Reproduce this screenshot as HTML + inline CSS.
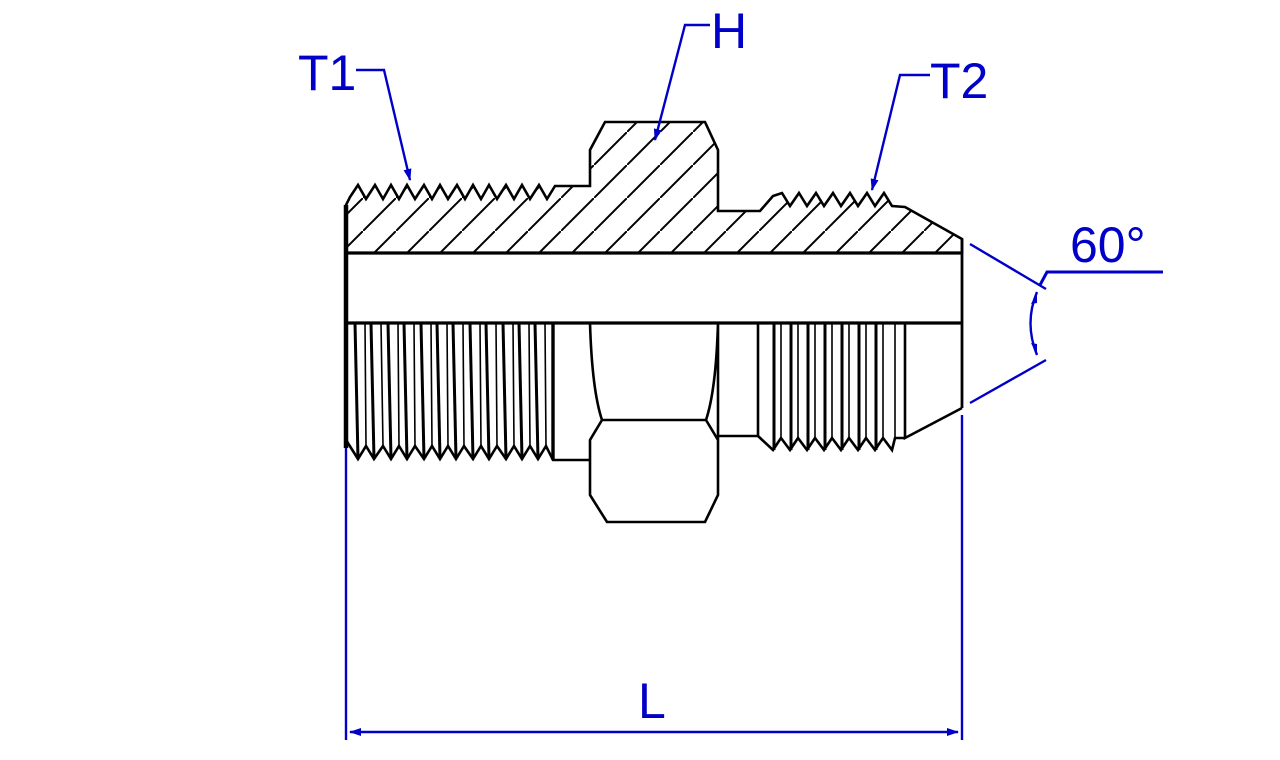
<!DOCTYPE html>
<html><head><meta charset="utf-8"><style>html,body{margin:0;padding:0;background:#fff}svg{display:block}</style></head>
<body>
<svg width="1280" height="760" viewBox="0 0 1280 760" xmlns="http://www.w3.org/2000/svg">
<defs>
<pattern id="hp" patternUnits="userSpaceOnUse" x="0" y="0" width="33" height="33">
<line x1="-2" y1="35" x2="35" y2="-2" stroke="#000" stroke-width="2"/>
</pattern>
<marker id="ar" markerWidth="12" markerHeight="8" refX="11" refY="4" orient="auto" markerUnits="userSpaceOnUse"><path d="M0,0 L12,4 L0,8 z" fill="#0000c8"/></marker>
<marker id="ar2" markerWidth="12" markerHeight="8" refX="1" refY="4" orient="auto" markerUnits="userSpaceOnUse"><path d="M12,0 L0,4 L12,8 z" fill="#0000c8"/></marker>
</defs>
<polygon fill="url(#hp)" stroke="none" points="346,253 346,205 350,197 358,185 366,199 375,185 383,199 391,185 399,199 407,185 415,199 424,185 432,199 440,185 448,199 457,185 465,199 473,185 481,199 489,185 497,199 506,185 514,199 522,185 530,199 539,185 547,199 555,186 590,186 590,150 605,122 705,122 718,150 718,211 760,211 773,196 782,193 790,206 799,193 807,206 816,193 824,206 833,193 841,206 850,193 858,206 867,193 875,206 884,193 892,206 905,207 962,239 962,253"/>
<g fill="none" stroke="#000" stroke-width="2.6">
<polyline points="346,253 346,205 350,197 358,185 366,199 375,185 383,199 391,185 399,199 407,185 415,199 424,185 432,199 440,185 448,199 457,185 465,199 473,185 481,199 489,185 497,199 506,185 514,199 522,185 530,199 539,185 547,199 555,186 590,186 590,150 605,122 705,122 718,150 718,211 760,211 773,196 782,193 790,206 799,193 807,206 816,193 824,206 833,193 841,206 850,193 858,206 867,193 875,206 884,193 892,206 905,207 962,239 962,253"/>
<line x1="346" y1="253" x2="962" y2="253" stroke-width="3.2"/>
<line x1="346" y1="323" x2="962" y2="323" stroke-width="3.2"/>
<line x1="346" y1="205" x2="346" y2="448" stroke-width="4.5"/>
<line x1="962" y1="239" x2="962" y2="408" stroke-width="2.8"/>
<path stroke-width="3" d="M355,323L358,459M371,323L374,459M388,323L391,459M404,323L407,459M421,323L424,459M437,323L440,459M453,323L456,459M470,323L473,459M486,323L489,459M503,323L506,459M519,323L522,459M535,323L538,459"/>
<path stroke-width="1.6" d="M365,323L366,446M381,323L383,446M398,323L399,446M414,323L415,446M431,323L432,446M447,323L448,446M463,323L464,446M480,323L481,446M496,323L497,446M513,323L514,446M529,323L530,446M545,323L546,446"/>
<polyline points="346,440 358,459 366,446 374,459 383,446 391,459 399,446 407,459 415,446 424,459 432,446 440,459 448,446 456,459 464,446 473,459 481,446 489,459 497,446 506,459 514,446 522,459 530,446 538,459 546,446 553,460 590,460"/>
<line x1="553" y1="323" x2="553" y2="460" stroke-width="3.4"/>
<path d="M590,323 Q592,390 602,420 L590,440 L590,495 L607,522 L705,522 L718,495 L718,440 L706,420 Q716,390 718,323 M602,420 H706 M718,323 V440 M590,440 V495"/>
<polyline points="718,436 758,436 758,323"/>
<path stroke-width="3" d="M774,323V450M791,323V450M808,323V450M825,323V450M842,323V450M859,323V450M876,323V450"/>
<path stroke-width="1.6" d="M781,323V438M798,323V438M815,323V438M832,323V438M849,323V438M866,323V438M883,323V438M895,323V438"/>
<polyline points="758,436 773,450 781,438 790,450 798,438 807,450 815,438 824,450 832,438 841,450 849,438 858,450 866,438 875,450 883,438 892,450 895,438 905,438"/>
<polyline points="905,323 905,438 962,408"/>
</g>
<g fill="none" stroke="#0000c8" stroke-width="2.4">
<line x1="346" y1="448" x2="346" y2="740"/>
<line x1="962" y1="415" x2="962" y2="740"/>
<line x1="350" y1="732" x2="958" y2="732" marker-end="url(#ar)" marker-start="url(#ar2)"/>
<path d="M356,70 H384 L410,180" marker-end="url(#ar)"/>
<path d="M710,25 H685 L655,140" marker-end="url(#ar)"/>
<path d="M930,75 H900 L872,190" marker-end="url(#ar)"/>
<line x1="970" y1="244" x2="1046" y2="289"/>
<line x1="970" y1="403" x2="1046" y2="360"/>
<path d="M1040,285 L1047,272 H1163" stroke-width="3"/>
<path d="M1037,292 Q1024,323 1037,355"/>
</g>
<polygon points="1037,292 1031,304 1037,303" fill="#0000c8"/>
<polygon points="1037,355 1031,343 1037,344" fill="#0000c8"/>
<g font-family="Liberation Sans, sans-serif" fill="#0000c8" font-size="50">
<text x="298" y="90">T1</text>
<text x="711" y="48">H</text>
<text x="930" y="98">T2</text>
<text x="1070" y="262">60°</text>
<text x="638" y="718">L</text>
</g>
</svg>
</body></html>
